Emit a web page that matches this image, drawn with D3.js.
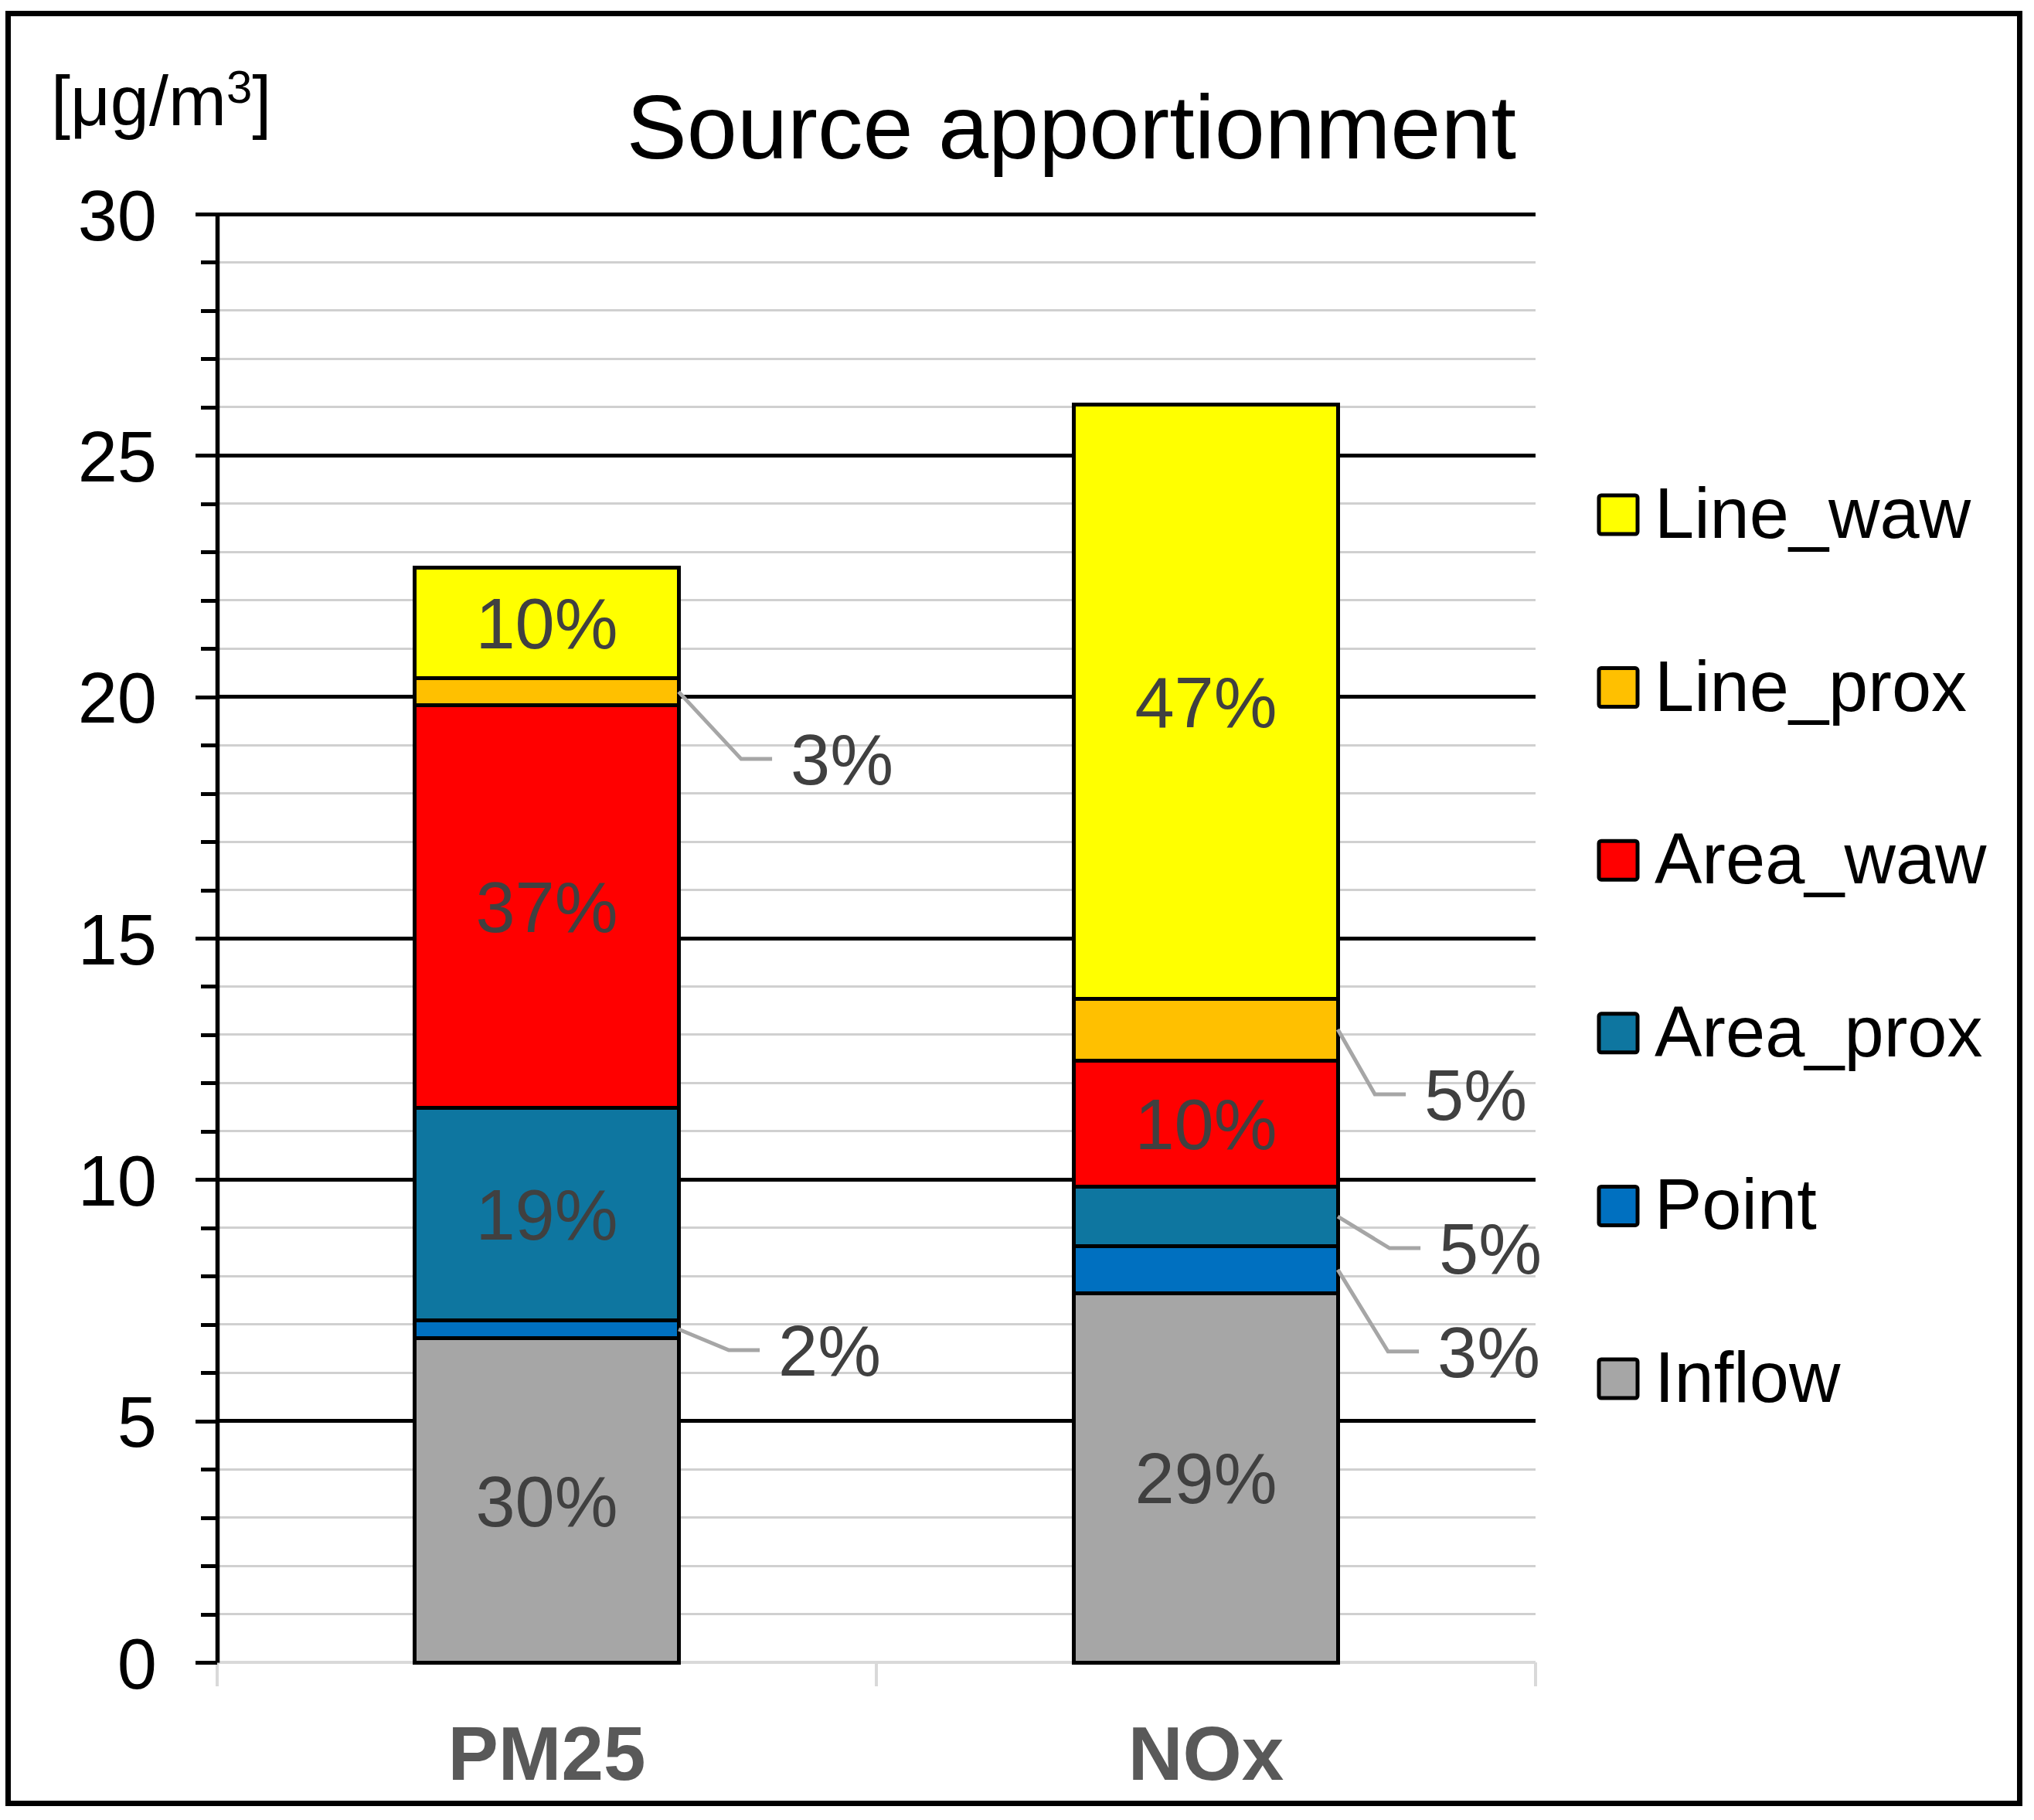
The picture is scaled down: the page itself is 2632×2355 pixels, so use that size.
<!DOCTYPE html>
<html>
<head>
<meta charset="utf-8">
<script src="https://cdn.jsdelivr.net/npm/d3@7"></script>
<style>
  html, body { margin: 0; padding: 0; background: #fff; }
  svg { display: block; }
  text { font-family: "Liberation Sans", Arial, sans-serif; }
  line, rect { shape-rendering: crispEdges; }
</style>
</head>
<body>
<script>
// ---------------- DATA ----------------
const categories = ["PM25", "NOx"];
const seriesNames = ["Inflow", "Point", "Area_prox", "Area_waw", "Line_prox", "Line_waw"];
const seriesColors = ["#a6a6a6", "#0070c0", "#0e76a0", "#ff0000", "#ffc000", "#ffff00"];
// values in µg/m3, per series, [PM25, NOx]
const inflow    = [6.71, 7.65];
const point     = [0.38, 0.97];
const areaProx  = [4.40, 1.23];
const areaWaw   = [8.33, 2.62];
const lineProx  = [0.57, 1.28];
const lineWaw   = [2.29, 12.30];
// percentage labels as printed, per series [PM25, NOx]
const pctInflow   = ["30%", "29%"];
const pctPoint    = ["2%", "3%"];
const pctAreaProx = ["19%", "5%"];
const pctAreaWaw  = ["37%", "10%"];
const pctLineProx = ["3%", "5%"];
const pctLineWaw  = ["10%", "47%"];
const majorTicks = [0, 5, 10, 15, 20, 25, 30];
const minorTicks = d3.range(0, 31, 1);
const titleText = "Source apportionment";

// labels placed outside the bar with a leader line
const outsideLabels = [
  { cat: "PM25", series: "Line_prox", dx: 81, dy: 87 },
  { cat: "PM25", series: "Point",     dx: 65, dy: 27 },
  { cat: "NOx",  series: "Line_prox", dx: 48, dy: 84 },
  { cat: "NOx",  series: "Area_prox", dx: 67, dy: 41 },
  { cat: "NOx",  series: "Point",     dx: 65, dy: 106 }
];

// --------------- BUILD TABLE ---------------
const valueArrays = [inflow, point, areaProx, areaWaw, lineProx, lineWaw];
const pctArrays = [pctInflow, pctPoint, pctAreaProx, pctAreaWaw, pctLineProx, pctLineWaw];
const table = categories.map((c, ci) => {
  const row = { cat: c };
  seriesNames.forEach((s, si) => { row[s] = valueArrays[si][ci]; });
  return row;
});
const stacked = d3.stack().keys(seriesNames)(table);

// --------------- LAYOUT ---------------
const W = 2632, H = 2355;
const svg = d3.select("body").append("svg").attr("width", W).attr("height", H);
svg.append("rect").attr("width", W).attr("height", H).attr("fill", "#fff");

const plotLeft = 281, plotRight = 1987, plotTop = 277, plotBottom = 2151;
const y = d3.scaleLinear().domain([0, 30]).range([plotBottom, plotTop]);
const x = d3.scaleBand().domain(categories).range([plotLeft, plotRight])
  .paddingInner(0.6).paddingOuter(0.3);
const color = d3.scaleOrdinal().domain(seriesNames).range(seriesColors);

// outer frame
svg.append("rect").attr("x", 10).attr("y", 17).attr("width", 2603).attr("height", 2316)
  .attr("fill", "none").attr("stroke", "#000").attr("stroke-width", 7);

// minor gridlines
svg.append("g").selectAll("line")
  .data(minorTicks.filter(t => majorTicks.indexOf(t) < 0))
  .join("line")
  .attr("x1", plotLeft).attr("x2", plotRight)
  .attr("y1", d => y(d)).attr("y2", d => y(d))
  .attr("stroke", "#d0d0d0").attr("stroke-width", 3);

// major gridlines
svg.append("g").selectAll("line")
  .data(majorTicks.filter(t => t > 0))
  .join("line")
  .attr("x1", plotLeft).attr("x2", plotRight)
  .attr("y1", d => y(d)).attr("y2", d => y(d))
  .attr("stroke", "#000").attr("stroke-width", 5);

// category axis (grey) with boundary ticks
const boundaries = d3.range(categories.length + 1).map(i => plotLeft + i * (plotRight - plotLeft) / categories.length);
const catAxis = svg.append("g");
catAxis.append("line").attr("x1", plotLeft).attr("x2", plotRight)
  .attr("y1", plotBottom).attr("y2", plotBottom)
  .attr("stroke", "#d9d9d9").attr("stroke-width", 4);
catAxis.selectAll("line.tk").data(boundaries).join("line").attr("class", "tk")
  .attr("x1", d => d).attr("x2", d => d)
  .attr("y1", plotBottom).attr("y2", plotBottom + 31)
  .attr("stroke", "#d9d9d9").attr("stroke-width", 4);

// bars
const barG = svg.append("g");
stacked.forEach((layer, si) => {
  barG.selectAll(null).data(layer).join("rect")
    .attr("x", d => x(d.data.cat))
    .attr("width", x.bandwidth())
    .attr("y", d => y(d[1]))
    .attr("height", d => y(d[0]) - y(d[1]))
    .attr("fill", color(layer.key))
    .attr("stroke", "#000").attr("stroke-width", 5);
});

// y axis (minor ticks)
svg.append("g").attr("transform", `translate(${plotLeft},0)`)
  .call(d3.axisLeft(y).tickValues(minorTicks).tickSize(21).tickSizeOuter(0).tickFormat(""))
  .call(g => g.select(".domain").remove())
  .call(g => g.selectAll(".tick line").attr("stroke", "#000").attr("stroke-width", 5));

// y axis (major ticks + labels)
svg.append("g").attr("transform", `translate(${plotLeft},0)`)
  .call(d3.axisLeft(y).tickValues(majorTicks).tickSize(28).tickSizeOuter(0).tickPadding(50))
  .call(g => g.select(".domain").attr("stroke", "#000").attr("stroke-width", 5.5))
  .call(g => g.selectAll(".tick line").attr("stroke", "#000").attr("stroke-width", 5))
  .call(g => g.selectAll(".tick text")
    .attr("font-family", "'Liberation Sans', Arial, sans-serif")
    .attr("font-size", 92).attr("fill", "#000").attr("dy", "0.36em"));

// data labels
const outsideKey = new Set(outsideLabels.map(o => o.cat + "|" + o.series));
const labelG = svg.append("g");
stacked.forEach((layer, si) => {
  layer.forEach((d, ci) => {
    const cat = d.data.cat;
    const label = pctArrays[si][ci];
    const yc = (y(d[0]) + y(d[1])) / 2;
    if (outsideKey.has(cat + "|" + layer.key)) {
      const o = outsideLabels.find(q => q.cat === cat && q.series === layer.key);
      const x0 = x(cat) + x.bandwidth();
      const ex = x0 + o.dx, ey = yc + o.dy, hx = ex + 40;
      labelG.append("path")
        .attr("d", d3.line()([[x0, yc], [ex, ey], [hx, ey]]))
        .attr("fill", "none").attr("stroke", "#a6a6a6").attr("stroke-width", 5);
      labelG.append("text").attr("x", hx + 24).attr("y", ey).attr("dy", "0.36em")
        .attr("font-size", 92).attr("fill", "#404040").text(label);
    } else {
      labelG.append("text").attr("x", x(cat) + x.bandwidth() / 2).attr("y", yc)
        .attr("dy", "0.36em").attr("text-anchor", "middle")
        .attr("font-size", 92).attr("fill", "#404040").text(label);
    }
  });
});

// category labels
svg.append("g").selectAll("text").data(categories).join("text")
  .attr("x", d => x(d) + x.bandwidth() / 2).attr("y", 2303)
  .attr("text-anchor", "middle").attr("font-size", 98).attr("font-weight", "bold")
  .attr("fill", "#595959").text(d => d);

// title
svg.append("text").attr("x", 1962).attr("y", 205).attr("text-anchor", "end")
  .attr("font-size", 117).attr("fill", "#000").text(titleText);

// unit label
const unit = svg.append("text").attr("x", 66).attr("y", 162).attr("font-size", 90).attr("fill", "#000");
unit.append("tspan").text("[μg/m");
unit.append("tspan").attr("font-size", 60).attr("dy", -29).text("3");
unit.append("tspan").attr("dy", 29).text("]");

// legend
const legendNames = seriesNames.slice().reverse();
const legG = svg.append("g");
legendNames.forEach((s, i) => {
  const cy = 666 + i * 223.6;
  legG.append("rect").attr("x", 2069).attr("y", cy - 25).attr("width", 50).attr("height", 50)
    .attr("rx", 3).attr("fill", color(s)).attr("stroke", "#000").attr("stroke-width", 5)
    .style("shape-rendering", "auto");
  legG.append("text").attr("x", 2141).attr("y", cy + 30).attr("font-size", 92)
    .attr("fill", "#000").text(s);
});
</script>
</body>
</html>
